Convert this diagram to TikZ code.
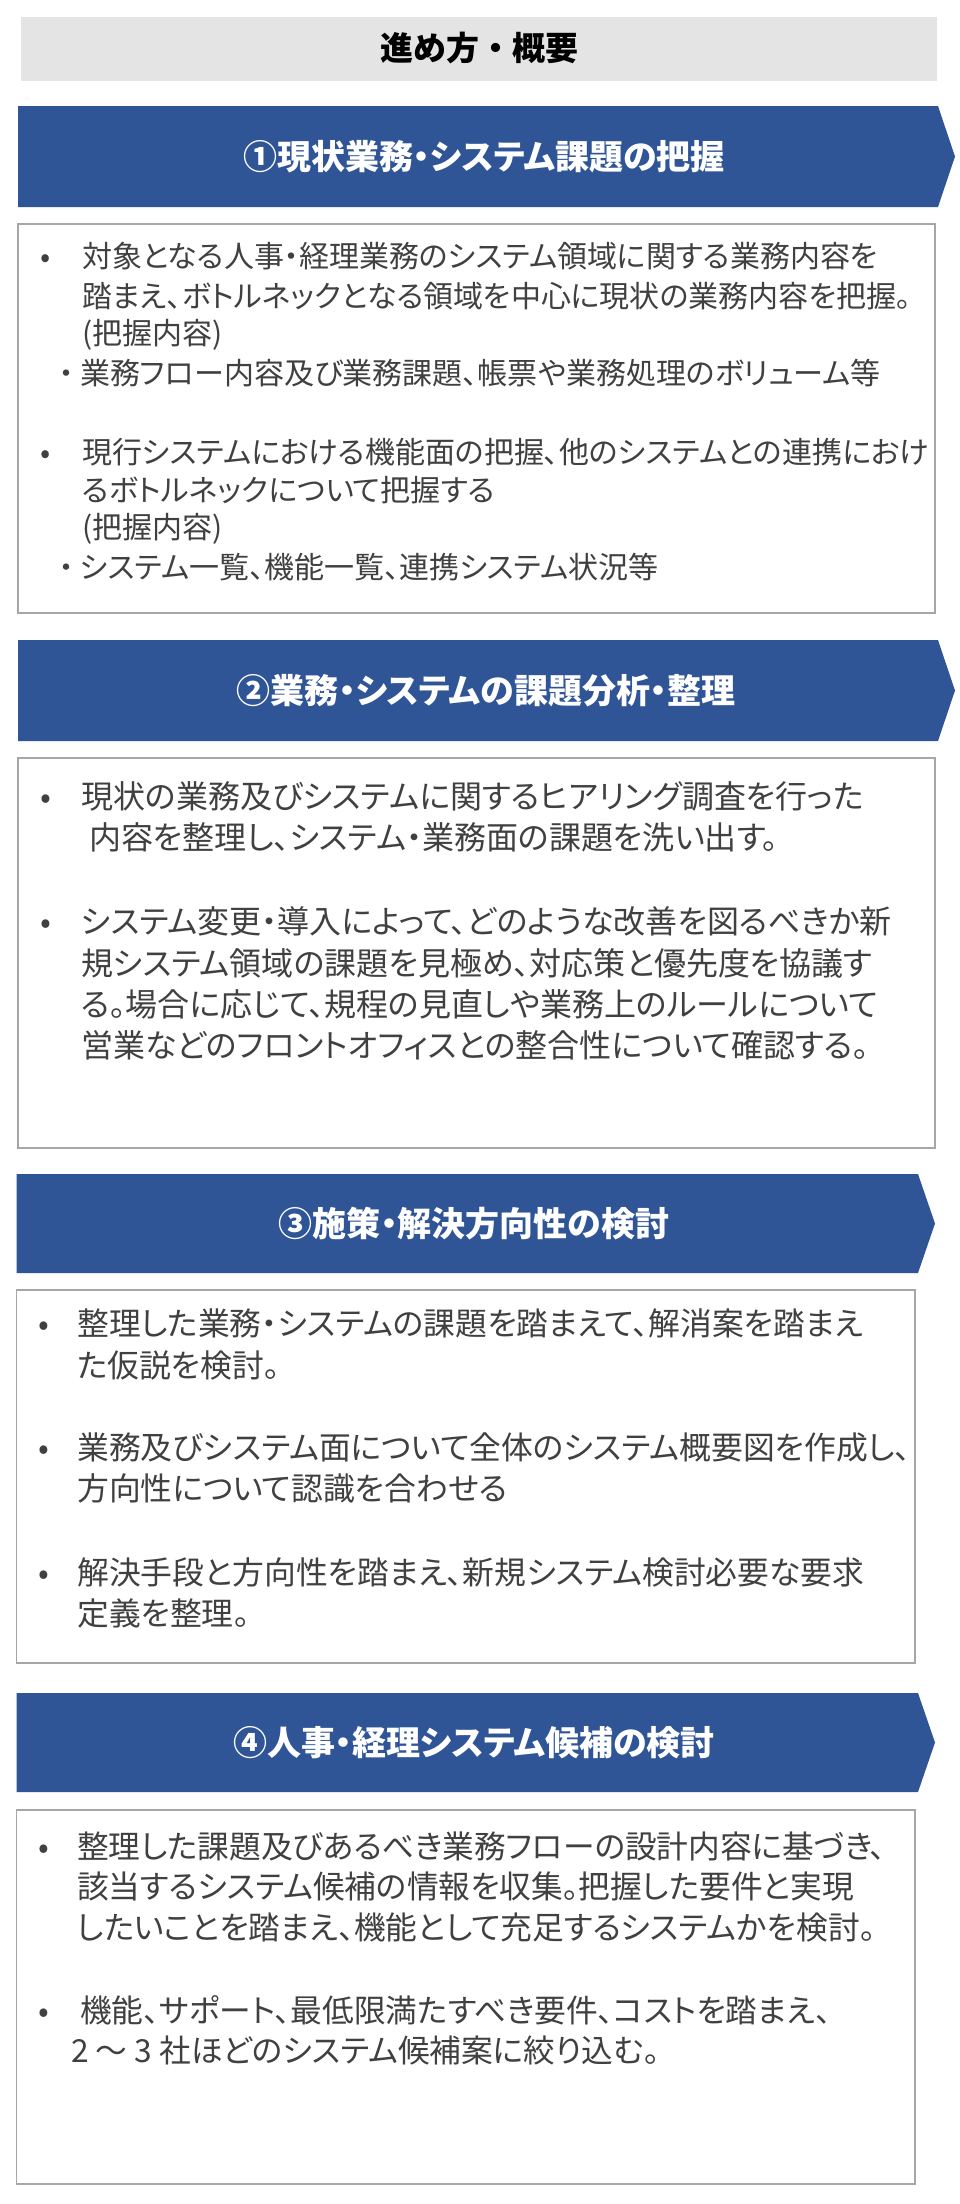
\documentclass[tikz,border=0pt]{standalone}
\usepackage{fontspec}
\setmainfont{Noto Sans CJK JP}[RawFeature={+palt}]
\newfontfamily\titlefont{Noto Sans CJK JP}
\definecolor{bannerblue}{HTML}{2F5597}
\definecolor{titlegray}{HTML}{E4E4E4}
\definecolor{boxgray}{HTML}{A6A6A6}
\definecolor{bodytext}{HTML}{404040}
\tikzset{
  banner/.style={fill=bannerblue, draw=none},
  heading/.style={text=white, font=\fontsize{34}{40}\selectfont\bfseries, inner sep=0pt},
  contentbox/.style={draw=boxgray, line width=1.6pt, fill=white},
  bodytxt/.style={text=bodytext, inner sep=0pt, anchor=base west},
  bulletmark/.style={text=bodytext, inner sep=0pt, anchor=base},
  sizeA/.style={font=\fontsize{30}{36}\selectfont},
  sizeB/.style={font=\fontsize{32}{38}\selectfont},
  sizeC/.style={font=\fontsize{31.8}{38}\selectfont},
  sizeD/.style={font=\fontsize{31.7}{38}\selectfont},
  titletxt/.style={text=black, font=\titlefont\fontsize{33}{38}\selectfont\bfseries, inner sep=0pt}
}
\newcommand\bodyline[4]{\node[bodytxt] (#1) at (#2,#3) {#4};}
\newcommand\bulletat[3]{\node[bulletmark] (#1) at (#2,#3) {•};}
\newcommand\subdot{\llap{・\hspace{6pt}}}
\begin{document}
\begin{tikzpicture}[x=1pt,y=-1pt]
\useasboundingbox (0,0) rectangle (960,2204);
\fill[white] (0,0) rectangle (960,2204);
% title
\fill[titlegray] (21,17) rectangle (937,81);
\node[titletxt] (title) at (479,48.5) {進め方・概要};

% ---------- section 1 ----------
\path[banner] (18,106) -- (938,106) -- (955,156.5) -- (938,207) -- (18,207) -- cycle;
\node[heading] (h1) at (484,157) {①現状業務・システム課題の把握};
\draw[contentbox] (18,224) rectangle (935,613);
\begin{scope}[every node/.append style={sizeA}]
\bulletat{b11}{46}{267}
\bodyline{t11}{82}{267}{対象となる人事・経理業務のシステム領域に関する業務内容を}
\bodyline{t12}{82}{307}{踏まえ、ボトルネックとなる領域を中心に現状の業務内容を把握。}
\bodyline{t13}{82}{344}{(把握内容)}
\bodyline{t14}{80}{384}{\subdot 業務フロー内容及び業務課題、帳票や業務処理のボリューム等}
\bulletat{b12}{46}{463}
\bodyline{t15}{82}{463}{現行システムにおける機能面の把握、他のシステムとの連携におけ}
\bodyline{t16}{82}{501}{るボトルネックについて把握する}
\bodyline{t17}{82}{538}{(把握内容)}
\bodyline{t18}{80}{578}{\subdot システム一覧、機能一覧、連携システム状況等}
\end{scope}

% ---------- section 2 ----------
\path[banner] (18,640) -- (938,640) -- (955,690.5) -- (938,741) -- (18,741) -- cycle;
\node[heading] (h2) at (486,691) {②業務・システムの課題分析・整理};
\draw[contentbox] (18,758) rectangle (935,1148);
\begin{scope}[every node/.append style={sizeB}]
\bulletat{b21}{46}{808}
\bodyline{t21}{81}{808}{現状の業務及びシステムに関するヒアリング調査を行った}
\bodyline{t22}{89}{849}{内容を整理し、システム・業務面の課題を洗い出す。}
\bulletat{b22}{46}{933}
\bodyline{t23}{81}{933}{システム変更・導入によって、どのような改善を図るべきか新}
\bodyline{t24}{81}{975}{規システム領域の課題を見極め、対応策と優先度を協議す}
\bodyline{t25}{81}{1016}{る。場合に応じて、規程の見直しや業務上のルールについて}
\bodyline{t26}{81}{1057}{営業などのフロントオフィスとの整合性について確認する。}
\end{scope}

% ---------- section 3 ----------
\path[banner] (16.5,1174) -- (918,1174) -- (935,1223.5) -- (918,1273) -- (16.5,1273) -- cycle;
\node[heading] (h3) at (474,1224) {③施策・解決方向性の検討};
\draw[contentbox] (16.5,1290) rectangle (915,1663);
\begin{scope}[every node/.append style={sizeC}]
\bulletat{b31}{44}{1335}
\bodyline{t31}{77}{1335}{整理した業務・システムの課題を踏まえて、解消案を踏まえ}
\bodyline{t32}{77}{1377}{た仮説を検討。}
\bulletat{b32}{44}{1459}
\bodyline{t33}{77}{1459}{業務及びシステム面について全体のシステム概要図を作成し、}
\bodyline{t34}{77}{1500}{方向性について認識を合わせる}
\bulletat{b33}{44}{1584}
\bodyline{t35}{77}{1584}{解決手段と方向性を踏まえ、新規システム検討必要な要求}
\bodyline{t36}{77}{1625}{定義を整理。}
\end{scope}

% ---------- section 4 ----------
\path[banner] (16.5,1693) -- (918,1693) -- (935,1742.5) -- (918,1792) -- (16.5,1792) -- cycle;
\node[heading] (h4) at (474,1743) {④人事・経理システム候補の検討};
\draw[contentbox] (16.5,1810) rectangle (915,2184);
\begin{scope}[every node/.append style={sizeD}]
\bulletat{b41}{44}{1858}
\bodyline{t41}{77}{1858}{整理した課題及びあるべき業務フローの設計内容に基づき、}
\bodyline{t42}{77}{1898}{該当するシステム候補の情報を収集。把握した要件と実現}
\bodyline{t43}{77}{1939}{したいことを踏まえ、機能として充足するシステムかを検討。}
\bulletat{b42}{44}{2022}
\bodyline{t44}{80}{2022}{機能、サポート、最低限満たすべき要件、コストを踏まえ、}
\bodyline{t45}{71}{2062}{2 ～ 3 社ほどのシステム候補案に絞り込む。}
\end{scope}
\end{tikzpicture}
\end{document}
